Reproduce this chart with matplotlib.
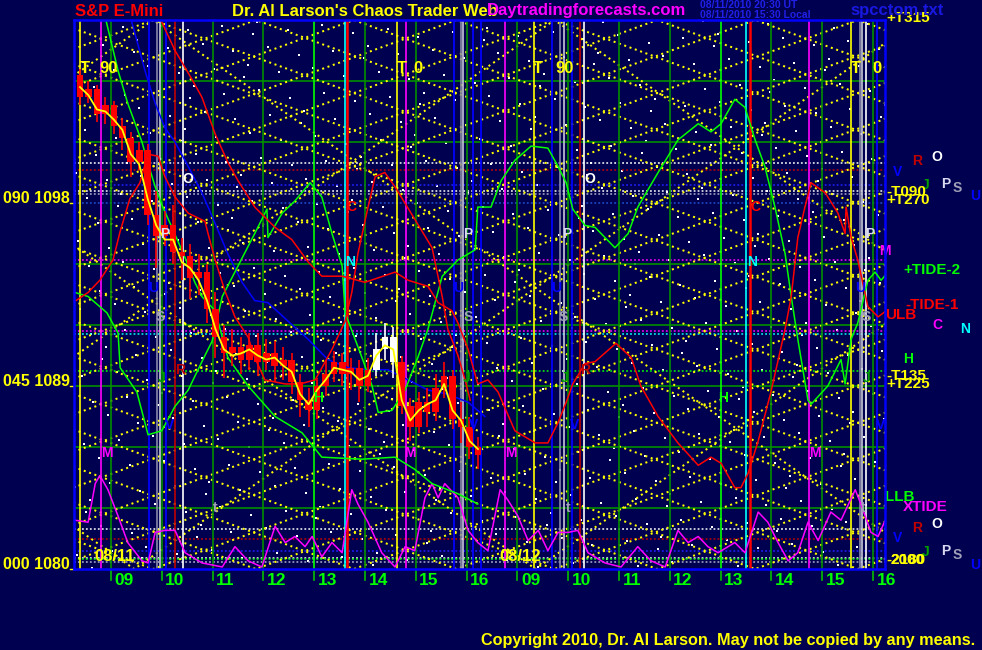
import numpy as np
import matplotlib
matplotlib.use("Agg")
import matplotlib.pyplot as plt

# ---------------- data ----------------
# time axis: hours since 08/11 09:00 (day 2 09:00 = 8.0)
hour_ticks = list(range(0, 16))
hour_labels = ["09", "10", "11", "12", "13", "14", "15", "16",
               "09", "10", "11", "12", "13", "14", "15", "16"]
price_ticks = [1080, 1089, 1098]
price_tick_labels = ["000 1080", "045 1089", "090 1098"]

# candles (10 minute bars starting 08:23)
bar_t0 = -0.61
bar_step = 1 / 6
bar_open = [1104.3, 1103.2, 1103.6, 1102.4, 1102.8, 1101.8, 1101.2, 1100.0, 1100.6, 1097.4,
            1096.4, 1096.9, 1095.6, 1095.4, 1094.3, 1094.6, 1092.8, 1091.4, 1090.6, 1090.9,
            1090.3, 1091.0, 1090.2, 1090.6, 1090.0, 1090.3, 1089.2, 1088.3, 1087.8, 1089.0,
            1089.6, 1090.2, 1089.6, 1089.9, 1089.0, 1089.8, 1090.8, 1091.4, 1090.2, 1088.0,
            1087.0, 1088.2, 1087.7, 1088.9, 1089.5, 1087.4, 1087.0, 1086.0]
bar_close = [1103.2, 1103.6, 1102.4, 1102.8, 1101.8, 1101.2, 1100.0, 1100.6, 1097.4, 1096.4,
             1096.9, 1095.6, 1095.4, 1094.3, 1094.6, 1092.8, 1091.4, 1090.6, 1090.9, 1090.3,
             1091.0, 1090.2, 1090.6, 1090.0, 1090.3, 1089.2, 1088.3, 1087.8, 1089.0, 1089.6,
             1090.2, 1089.6, 1089.9, 1089.0, 1089.8, 1090.8, 1091.4, 1090.2, 1088.0, 1087.0,
             1088.2, 1087.7, 1088.9, 1089.5, 1087.4, 1087.0, 1086.0, 1085.6]
bar_high = [1104.6, 1104.0, 1103.8, 1103.2, 1103.0, 1102.2, 1101.5, 1101.0, 1100.9, 1098.6,
            1097.6, 1097.9, 1096.3, 1096.0, 1095.5, 1095.0, 1093.6, 1092.0, 1091.8, 1091.4,
            1091.6, 1091.6, 1091.3, 1091.2, 1090.9, 1090.6, 1089.6, 1088.9, 1089.4, 1090.3,
            1090.7, 1090.6, 1090.4, 1090.3, 1090.4, 1091.6, 1092.1, 1091.9, 1090.5, 1088.4,
            1088.7, 1088.9, 1089.6, 1090.2, 1089.8, 1088.2, 1087.5, 1086.5]
bar_low = [1102.8, 1102.9, 1102.0, 1101.9, 1101.4, 1100.6, 1099.3, 1099.6, 1096.9, 1094.8,
           1095.9, 1095.0, 1094.2, 1093.3, 1093.5, 1092.1, 1090.4, 1089.4, 1090.0, 1089.6,
           1089.8, 1089.5, 1089.8, 1089.2, 1089.3, 1088.6, 1087.5, 1087.0, 1087.4, 1088.5,
           1089.2, 1089.0, 1088.8, 1088.2, 1088.7, 1089.5, 1090.3, 1089.4, 1087.6, 1086.3,
           1086.7, 1087.0, 1087.3, 1088.4, 1086.9, 1086.2, 1085.4, 1084.9]
bar_white = [35, 36, 37]
price_line = [1103.7, 1103.3, 1102.6, 1102.5, 1102.1, 1101.6, 1100.4, 1099.9, 1098.2, 1096.9,
              1096.2, 1096.2, 1095.1, 1094.8, 1094.2, 1093.2, 1091.8, 1090.8, 1090.5, 1090.6,
              1090.8, 1090.5, 1090.3, 1090.4, 1090.0, 1089.7, 1088.6, 1088.1, 1088.8, 1089.3,
              1089.9, 1089.8, 1089.7, 1089.3, 1089.5, 1090.5, 1091.0, 1090.8, 1088.3, 1087.3,
              1087.8, 1088.1, 1088.3, 1089.1, 1087.8, 1087.3, 1086.3, 1085.9]

tide2_t = [-0.71, -0.45, -0.08, 0.14, 0.18, 0.51, 0.73, 1.00, 1.26, 1.52, 1.81, 1.99, 2.19, 2.50,
           2.83, 3.07, 3.09, 3.37, 3.62, 3.92, 4.15, 4.35, 4.55, 4.61, 4.94, 5.14, 5.26, 5.53,
           5.79, 6.04, 6.24, 6.38, 6.52, 6.83, 7.17, 7.22, 7.48, 7.68, 7.95, 8.27, 8.60, 8.80,
           8.96, 9.09, 9.33, 9.53, 9.92, 10.18, 10.37, 10.77, 11.16, 11.56, 11.81, 12.01, 12.28,
           12.48, 12.68, 12.87, 13.07, 13.27, 13.39, 13.52, 13.72, 13.78, 14.11, 14.37, 14.45,
           14.57, 14.70, 14.90, 15.04, 15.16, 15.26]
tide2_p = [1093.6, 1093.4, 1092.6, 1091.6, 1089.9, 1088.7, 1086.6, 1086.8, 1088.0, 1088.8, 1090.3,
           1091.2, 1093.4, 1094.9, 1096.5, 1097.7, 1096.3, 1097.5, 1098.1, 1099.0, 1098.3, 1096.5,
           1094.9, 1092.6, 1090.4, 1089.0, 1087.7, 1087.8, 1088.8, 1090.4, 1091.8, 1093.1, 1094.4,
           1095.2, 1095.7, 1097.8, 1097.8, 1099.1, 1100.1, 1100.8, 1100.7, 1099.8, 1099.0, 1097.7,
           1096.9, 1096.8, 1095.8, 1096.5, 1097.8, 1099.5, 1101.1, 1101.9, 1101.5, 1101.9, 1103.1,
           1102.7, 1101.1, 1099.8, 1097.8, 1095.5, 1093.4, 1091.3, 1088.3, 1088.1, 1089.0, 1090.3,
           1089.1, 1091.3, 1092.1, 1094.2, 1094.6, 1094.2, 1094.5]

fcast_t = [-0.10, 0.14, 0.33, 0.61, 0.71, 0.87, 1.02, 1.20, 1.46, 1.65, 1.79, 2.05, 2.30, 2.70,
           3.23, 3.76, 4.02, 4.15, 4.94, 5.59, 5.98, 6.32, 6.83, 7.22]
fcast_p = [1107.0, 1104.5, 1102.9, 1101.0, 1100.1, 1098.8, 1097.8, 1096.8, 1095.3, 1094.1, 1093.4,
           1092.7, 1090.4, 1089.0, 1087.5, 1086.7, 1085.9, 1085.5, 1085.4, 1085.5, 1084.9, 1084.2,
           1083.7, 1083.2]

tide1_t = [1.00, 1.26, 1.59, 1.79, 2.05, 2.30, 2.50, 2.83, 3.23, 3.56, 3.88, 4.15, 4.55, 5.00,
           5.59, 5.85, 6.24, 6.44, 6.71, 6.83, 7.03, 7.22, 7.42, 7.62, 7.95, 8.35, 8.60, 8.80,
           8.96, 9.09, 9.33, 9.53, 9.94, 10.24, 10.43, 10.77, 11.16, 11.56, 11.81, 12.01, 12.28,
           12.40, 12.54, 12.74, 12.99, 13.27, 13.39, 13.52, 13.66, 13.78, 14.06, 14.31, 14.45,
           14.47, 14.57, 14.70, 14.90, 15.10, 15.26]
tide1_p = [1106.9, 1105.5, 1104.1, 1103.2, 1101.4, 1100.0, 1099.1, 1097.8, 1096.8, 1096.2, 1095.1,
           1094.4, 1094.4, 1094.1, 1094.6, 1094.2, 1093.9, 1093.1, 1092.7, 1092.1, 1090.8, 1089.1,
           1089.3, 1088.7, 1086.8, 1086.2, 1086.2, 1087.2, 1088.2, 1089.1, 1090.1, 1090.2, 1091.1,
           1090.4, 1089.0, 1087.5, 1086.2, 1085.1, 1085.5, 1085.2, 1084.0, 1084.0, 1084.7, 1086.3,
           1088.7, 1091.8, 1093.4, 1096.3, 1097.8, 1099.0, 1098.5, 1097.5, 1096.5, 1097.8, 1096.3,
           1095.2, 1092.9, 1092.4, 1092.7]

red2_t = [-0.69, -0.45, -0.22, 0.04, 0.18, 0.37, 0.57, 0.73, 0.93, 1.06, 1.26, 1.52, 1.85, 1.91,
          2.05, 2.24, 2.44, 2.70, 2.83, 3.03, 3.43, 3.72, 4.02, 4.35, 4.61, 4.74, 4.86, 5.06,
          5.20, 5.39, 5.59, 5.98, 6.32, 6.42, 6.52, 6.63, 6.83, 6.97, 7.07]
red2_p = [1093.2, 1093.6, 1094.2, 1095.2, 1096.6, 1098.2, 1099.0, 1100.4, 1100.3, 1099.3, 1098.3,
          1097.5, 1097.1, 1096.5, 1095.2, 1093.7, 1092.4, 1091.4, 1090.4, 1089.3, 1089.1, 1089.1,
          1089.3, 1090.8, 1092.2, 1093.6, 1095.5, 1097.8, 1099.3, 1099.5, 1098.8, 1097.2, 1095.8,
          1094.6, 1093.4, 1091.8, 1090.5, 1089.3, 1088.3]

blue_t = [0.41, 0.67, 0.87, 1.06, 1.26, 1.52, 1.79, 2.05, 2.30, 2.58, 2.83, 3.09, 3.48, 3.88,
          4.27, 4.67, 5.06, 5.45, 5.85, 6.24, 6.63, 7.03, 7.36]
blue_p = [1106.9, 1104.5, 1102.9, 1101.7, 1101.0, 1099.8, 1098.5, 1097.0, 1095.5, 1094.1, 1093.2,
          1093.1, 1092.2, 1091.3, 1090.3, 1089.9, 1089.8, 1089.8, 1089.3, 1088.8, 1088.6, 1088.2,
          1087.5]

xtide_t = [-0.71, -0.45, -0.31, -0.22, -0.06, 0.14, 0.33, 0.61, 0.73, 0.87, 1.06, 1.26, 1.46,
           1.79, 2.19, 2.44, 2.70, 2.97, 3.23, 3.43, 3.62, 3.82, 3.96, 4.15, 4.35, 4.55, 4.74,
           4.86, 5.06, 5.33, 5.59, 5.79, 5.98, 6.18, 6.32, 6.44, 6.57, 6.83, 7.03, 7.22, 7.42,
           7.66, 7.81, 8.01, 8.21, 8.41, 8.60, 8.80, 9.00, 9.19, 9.39, 9.72, 10.04, 10.37, 10.63,
           10.91, 11.16, 11.36, 11.56, 11.75, 11.95, 12.28, 12.48, 12.74, 12.93, 13.13, 13.33,
           13.52, 13.72, 13.92, 14.17, 14.37, 14.65, 14.76, 14.96, 15.10, 15.24]
xtide_p = [1082.4, 1082.3, 1084.2, 1084.6, 1083.9, 1082.6, 1081.3, 1080.4, 1080.3, 1081.8, 1081.9,
           1081.9, 1080.8, 1080.3, 1080.1, 1081.1, 1080.4, 1080.1, 1082.1, 1081.3, 1081.6, 1081.1,
           1081.6, 1080.6, 1081.3, 1080.8, 1083.9, 1083.2, 1082.3, 1080.8, 1080.1, 1081.1, 1080.9,
           1083.5, 1084.2, 1083.5, 1084.2, 1083.5, 1081.9, 1081.3, 1080.9, 1083.9, 1083.4, 1082.6,
           1081.4, 1081.9, 1080.9, 1081.8, 1081.8, 1081.9, 1080.8, 1080.3, 1080.1, 1081.1, 1080.4,
           1080.1, 1081.9, 1081.3, 1081.6, 1081.1, 1080.8, 1081.3, 1080.8, 1082.8, 1082.3, 1081.3,
           1080.4, 1080.8, 1082.3, 1081.4, 1082.8, 1082.4, 1083.9, 1083.2, 1081.8, 1081.6, 1082.4]

# vertical event lines
vlines_yellow = [-0.61, 5.63, 8.33, 14.57]
vlines_magenta = [-0.19, 5.81, 7.76, 13.74]
vlines_blue = [0.75, 1.08, 6.75, 7.12, 7.28, 8.68, 9.07, 15.08]
vlines_gray = [0.91, 6.89, 8.84, 14.74]
vlines_lgray = [0.96, 6.93, 8.92, 14.78]
vlines_white = [1.42, 9.31, 14.86]
vlines_dred = [1.26, 9.23]
vlines_red = [4.65, 12.58]
vlines_cyan = [4.61, 12.50]
bright_hours = [4, 12]

# horizontal levels
hgrid_green = [1083, 1086, 1089, 1092, 1095, 1101, 1104]
hdot_levels = [1099.95, 1099.6, 1098.9, 1098.6, 1098.45, 1098.0, 1095.2, 1091.7, 1091.55,
               1089.75, 1081.95, 1081.5, 1080.9, 1080.55, 1080.5, 1080.35]
hdot_colors = ["#FFFFFF", "#C00000", "#2020FF", "#FFFFFF", "#B0B0D0", "#2050D0", "#FF00FF",
               "#FF00FF", "#00FFFF", "#00FF00", "#FFFFFF", "#C00000", "#2020FF", "#FFFFFF",
               "#00FF00", "#B0B0D0"]

# time/price angle lattice families: (first vertex time, vertex spacing h, slope pt/h, edge)
lattice_families = [(0.83, 3.95, 0.91, "top"),
                    (0.83, 3.95, 0.91, "bottom"),
                    (0.83, 7.90, 1.75, "top")]

BG = "#000050"
YEL = "#FFFF00"
PMIN, PMAX = 1080.0, 1107.0
XMIN, XMAX = -0.728, 15.236

plt.rcParams["font.family"] = ["Liberation Sans", "DejaVu Sans"]
plt.rcParams["font.weight"] = "bold"

fig = plt.figure(figsize=(9.82, 6.5), dpi=100, facecolor=BG)
ax = fig.add_axes([74 / 982, 81 / 650, 811 / 982, 549 / 650], facecolor=BG)
ax.set_xlim(XMIN, XMAX)
ax.set_ylim(PMIN, PMAX)
ax.set_xticks([])
ax.set_yticks([])
for s in ax.spines.values():
    s.set_color("#0000FF")
    s.set_linewidth(1.8)
    s.set_zorder(20)

# star-field texture (deterministic low-discrepancy placement)
n = np.arange(1, 701)
sx = (0.31 + 0.7548776662466927 * n) % 1.0
sy = (0.17 + 0.5698402909980532 * n) % 1.0
ax.scatter(sx, sy, transform=ax.transAxes, s=1.6, c="white", marker="s",
           linewidths=0, zorder=1)

# horizontal levels
for p in hgrid_green:
    ax.axhline(p, color="#009000", lw=1.2, zorder=2)
for p, c in zip(hdot_levels, hdot_colors):
    ax.axhline(p, color=c, lw=1.1, ls=(0, (1.2, 1.4)), zorder=3)

# angle lattice (each line reflects between the chart's top and bottom)
def lattice_line(tv, edge_top, slope):
    half = (PMAX - PMIN) / slope
    ks = np.arange(-6, 7)
    ts = tv + ks * half
    top = (ks % 2 == 0) if edge_top else (ks % 2 == 1)
    return ts, np.where(top, PMAX, PMIN)

for t0, sp, sl, edge in lattice_families:
    period = 2 * (PMAX - PMIN) / sl
    k = int(np.ceil((XMIN - period / 2 - t0) / sp))
    while t0 + k * sp < XMIN + period / 2:
        ts, ps = lattice_line(t0 + k * sp, edge == "top", sl)
        ax.plot(ts, ps, color=YEL, lw=1.45, ls=(0, (1, 1.8)), zorder=4)
        k += 1

# vertical lines
for h in hour_ticks:
    ax.axvline(h, color="#00FF00" if h in bright_hours else "#009000", lw=1.2, zorder=5)
for group, col, lw in [(vlines_yellow, YEL, 1.2), (vlines_magenta, "#FF00FF", 1.2),
                       (vlines_blue, "#0000FF", 1.3), (vlines_gray, "#8888A8", 1.2),
                       (vlines_lgray, "#C8C8D8", 1.2), (vlines_white, "#FFFFFF", 1.2),
                       (vlines_dred, "#C00000", 1.2), (vlines_cyan, "#00FFFF", 1.2),
                       (vlines_red, "#FF0000", 1.8)]:
    for t in group:
        ax.axvline(t, color=col, lw=lw, zorder=5)

# curves
ax.plot(xtide_t, xtide_p, color="#FF00FF", lw=1.1, zorder=7)
ax.plot(blue_t, blue_p, color="#0000FF", lw=1.1, zorder=7)
ax.plot(tide2_t, tide2_p, color="#00FF00", lw=1.1, zorder=7)
ax.plot(fcast_t, fcast_p, color="#00FF00", lw=1.1, zorder=7)
ax.plot(tide1_t, tide1_p, color="#FF0000", lw=1.1, zorder=7)
ax.plot(red2_t, red2_p, color="#FF0000", lw=1.1, zorder=7)

# candles
bt = [bar_t0 + i * bar_step for i in range(len(bar_close))]
cols = ["#FFFFFF" if i in bar_white else "#FF0000" for i in range(len(bar_close))]
ax.vlines(bt, bar_low, bar_high, colors=cols, lw=1.2, zorder=8)
body_b = [min(o, c) for o, c in zip(bar_open, bar_close)]
body_h = [max(abs(c - o), 0.15) for o, c in zip(bar_open, bar_close)]
ax.bar(bt, body_h, bottom=body_b, width=0.13, color=cols, linewidth=0, zorder=8)
ax.plot(bt, price_line, color=YEL, lw=1.3, zorder=9)

# in-chart letters
def lab(t, p, s, c, fs=10, ha="center"):
    ax.text(t, p, s, color=c, fontsize=fs, fontweight="bold", ha=ha, va="center",
            zorder=12, clip_on=False)

for t in [-0.52, 5.72, 8.41, 14.66]:
    lab(t, 1104.6, "T", YEL, 12)
for t, s in [(-0.04, "90"), (6.04, "0"), (8.93, "90"), (15.07, "0")]:
    lab(t, 1104.6, s, YEL, 12)
for t in [1.52, 9.43]:
    lab(t, 1099.2, "O", "#FFFFFF")
for t in [1.06, 7.03, 8.98, 14.94]:
    lab(t, 1096.5, "P", "#D8D8F0")
for t in [4.74, 12.68]:
    lab(t, 1097.8, "C", "#FF0000")
for t in [4.70, 12.62]:
    lab(t, 1095.1, "N", "#00FFFF")
for t in [0.96, 7.03, 8.90, 14.86]:
    lab(t, 1092.4, "S", "#A0A0B8")
for t in [0.83, 6.83, 8.76, 14.74]:
    lab(t, 1093.8, "U", "#0000FF")
for t in [1.0, 7.0, 8.94, 14.88]:
    lab(t, 1089.4, "J", "#00A000")
for t in [1.36, 9.33]:
    lab(t, 1089.8, "R", "#C00000")
for t in [1.16, 7.13, 9.13, 15.14]:
    lab(t, 1087.1, "V", "#0000FF")
for t in [-0.08, 5.89, 7.87, 13.86]:
    lab(t, 1085.7, "M", "#FF00FF")
for t in [2.05, 9.0, 14.8]:
    lab(t, 1083.0, "t", "#A0A0B8")
for t in [4.07, 12.05]:
    lab(t, 1088.4, "H", "#00FF00")
lab(0.08, 1080.6, "08/11", YEL, 12)
lab(8.05, 1080.6, "08/12", YEL, 12)

# right-side level labels
right = [(15.26, 1107.1, "+T315", YEL, 11), (15.87, 1100.07, "R", "#C00000", 10),
         (16.26, 1100.27, "O", "#FFFFFF", 10), (15.49, 1099.53, "V", "#0000FF", 10),
         (16.04, 1098.89, "J", "#00A000", 10), (16.44, 1098.94, "P", "#D8D8F0", 10),
         (16.65, 1098.74, "S", "#A0A0B8", 10), (17.01, 1098.35, "U", "#0000FF", 10),
         (15.26, 1098.54, "-T090", YEL, 11), (15.26, 1098.15, "+T270", YEL, 11),
         (15.24, 1095.64, "M", "#FF00FF", 10), (15.59, 1094.71, "+TIDE-2", "#00FF00", 11),
         (15.63, 1092.99, "-TIDE-1", "#FF0000", 11), (15.24, 1092.49, "ULB", "#FF0000", 11),
         (16.26, 1092.0, "C", "#FF00FF", 10), (16.81, 1091.8, "N", "#00FFFF", 10),
         (15.69, 1090.33, "H", "#00FF00", 10), (15.26, 1089.49, "-T135", YEL, 11),
         (15.26, 1089.10, "+T225", YEL, 11), (15.24, 1083.54, "LLB", "#00FF00", 11),
         (15.59, 1083.05, "XTIDE", "#FF00FF", 11), (16.26, 1082.21, "O", "#FFFFFF", 10),
         (15.87, 1082.02, "R", "#C00000", 10), (15.49, 1081.52, "V", "#0000FF", 10),
         (16.04, 1080.84, "J", "#00A000", 10), (16.44, 1080.89, "P", "#D8D8F0", 10),
         (16.65, 1080.69, "S", "#A0A0B8", 10), (17.01, 1080.20, "U", "#0000FF", 10),
         (15.26, 1080.44, "-2180", YEL, 11), (15.34, 1080.44, "2000", YEL, 11)]
for t, p, s, c, fs in right:
    ha = "left" if len(s) > 1 else "center"
    ax.text(t, p, s, color=c, fontsize=fs, fontweight="bold", ha=ha, va="center",
            zorder=12, clip_on=False)

# x tick marks and hour labels
xt = ax.get_xaxis_transform()
for h, s in zip(hour_ticks, hour_labels):
    ax.plot([h, h], [-0.002, -0.02], color="#00C000", lw=1.2, transform=xt, clip_on=False)
    ax.text(h + 0.07, -0.008, s, color="#00FF00", fontsize=12.5, fontweight="bold",
            ha="left", va="top", transform=xt, clip_on=False)

# y labels
yt = ax.get_yaxis_transform()
for p, s in zip(price_ticks, price_tick_labels):
    ax.text(-0.005, p, s, color=YEL, fontsize=11.5, fontweight="bold", ha="right",
            va="baseline", transform=yt, clip_on=False)
    ax.plot([-0.005, 0.0], [p, p], color=YEL, lw=1, transform=yt, clip_on=False)

# header / footer
def fx(x):
    return x / 982

def fy(y):
    return 1 - y / 650

fig.text(fx(75), fy(11), "S&P E-Mini", color="#FF0000", fontsize=12, fontweight="bold",
         ha="left", va="center")
fig.text(fx(232), fy(11), "Dr. Al Larson's Chaos Trader Web", color=YEL, fontsize=12,
         fontweight="bold", ha="left", va="center")
fig.text(fx(487), fy(11), "Daytradingforecasts.com", color="#FF00FF", fontsize=12,
         fontweight="bold", ha="left", va="center")
fig.text(fx(700), fy(5), "08/11/2010 20:30 UT", color="#2020E8", fontsize=7.5,
         fontweight="bold", ha="left", va="center")
fig.text(fx(700), fy(15), "08/11/2010 15:30 Local", color="#2020E8", fontsize=7.5,
         fontweight="bold", ha="left", va="center")
fig.text(fx(850), fy(10), "spcctom.txt", color="#1818E0", fontsize=12, fontweight="bold",
         ha="left", va="center")
fig.text(fx(481), fy(640), "Copyright 2010, Dr. Al Larson. May not be copied by any means.",
         color=YEL, fontsize=11.7, fontweight="bold", ha="left", va="center")

fig.savefig("out.png", dpi=100, facecolor=BG)
